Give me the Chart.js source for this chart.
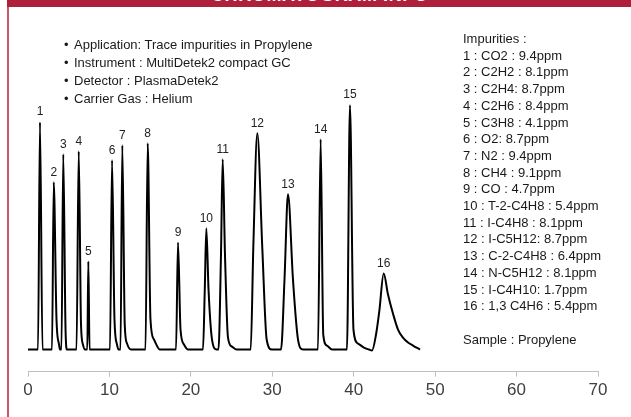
<!DOCTYPE html>
<html>
<head>
<meta charset="utf-8">
<script src="https://cdn.jsdelivr.net/npm/chart.js@4"></script>
<style>
  html, body { margin: 0; padding: 0; background: #fff; }
  body { width: 631px; height: 417px; position: relative; overflow: hidden;
         font-family: "Liberation Sans", Arial, sans-serif; color: #1a1a1a; }
  #chart { position: absolute; left: 0; top: 0; }
  #head { position: absolute; left: 7px; top: 0; width: 624px; height: 7px;
          background: #ad1f3b; overflow: hidden; }
  #head span { position: absolute; left: 204px; top: -14px; color: #fff;
               font: bold 18px "Liberation Sans", Arial, sans-serif; line-height: 18px;
               letter-spacing: 0.6px; white-space: nowrap; }
  #rule { position: absolute; left: 7px; top: 7px; width: 2px; height: 410px; background: #c9566a; }
  #notes { position: absolute; left: 64px; top: 36px; margin: 0; padding: 0; list-style: none;
           font-size: 13px; line-height: 18px; }
  #notes li::before { content: "\2022"; display: inline-block; width: 10px; }
  #impurities { position: absolute; left: 463px; top: 31px; font-size: 13px; line-height: 16.7px;
                white-space: pre; }
</style>
</head>
<body>
<canvas id="chart" width="631" height="417"></canvas>
<div id="head"><span>CHROMATOGRAM INFO</span></div>
<div id="rule"></div>
<ul id="notes">
  <li>Application: Trace impurities in Propylene</li>
  <li>Instrument : MultiDetek2 compact GC</li>
  <li>Detector : PlasmaDetek2</li>
  <li>Carrier Gas : Helium</li>
</ul>
<div id="impurities"></div>
<script>
// retention time (min) and detector signal
const traceTime = [0, 1.23, 1.47, 1.78, 2.95, 3.16, 3.50, 3.81, 3.93, 4.11, 4.33, 4.61, 4.79,
  5.96, 6.23, 6.51, 6.75, 7.00, 7.28, 7.41, 7.56,
  10.07, 10.32, 10.62, 10.93, 11.11, 11.36, 11.58, 11.88, 12.16, 12.65,
  14.43, 14.70, 15.04, 15.47, 16.21, 18.18, 18.42, 18.73, 19.16, 19.65,
  21.49, 21.71, 21.90, 22.17, 22.60, 23.17, 23.39, 23.70, 23.91, 24.19, 24.56, 25.05, 25.63,
  27.35, 27.67, 28.16, 28.77, 29.31, 29.96, 31.07, 31.50, 31.93, 32.54, 33.16, 33.77,
  35.61, 35.94, 36.26, 36.72, 37.33, 39.17, 39.54, 39.97, 40.53, 41.26, 41.88,
  42.24, 42.74, 43.14, 43.68, 44.21, 44.82, 45.44, 46.05, 46.67, 47.28, 48.14];
const traceSignal = [0, 0, 227, 0, 0, 167, 30, 5, 0, 0, 195, 20, 0,
  0, 198, 25, 5, 0, 0, 88, 0,
  0, 189, 30, 5, 0, 0, 204, 25, 6, 0,
  0, 206, 30, 10, 0, 0, 107, 20, 5, 0,
  0, 60, 121, 60, 10, 0, 0, 95, 190, 95, 12, 3, 0,
  0, 102, 216, 102, 10, 0, 0, 70, 155, 70, 10, 0,
  0, 210, 15, 4, 0, 0, 244, 20, 6, 2, 0,
  -1, 15, 38, 76, 55, 36, 20, 12, 7, 4, 0];

const peakNumbers = ['1', '2', '3', '4', '5', '6', '7', '8', '9', '10', '11', '12', '13', '14', '15', '16'];
const peakTimes = [1.47, 3.16, 4.33, 6.23, 7.41, 10.32, 11.58, 14.70, 18.42, 21.90, 23.91, 28.16, 31.93, 35.94, 39.54, 43.68];
const peakHeights = [227, 167, 195, 198, 88, 189, 204, 206, 107, 121, 190, 216, 155, 210, 244, 76];

const compounds = ['CO2 : 9.4ppm', 'C2H2 : 8.1ppm', 'C2H4: 8.7ppm', 'C2H6 : 8.4ppm', 'C3H8 : 4.1ppm',
  'O2: 8.7ppm', 'N2 : 9.4ppm', 'CH4 : 9.1ppm', 'CO : 4.7ppm', 'T-2-C4H8 : 5.4ppm', 'I-C4H8 : 8.1ppm',
  'I-C5H12: 8.7ppm', 'C-2-C4H8 : 6.4ppm', 'N-C5H12 : 8.1ppm', 'I-C4H10: 1.7ppm', '1,3 C4H6 : 5.4ppm'];
const timeTicks = [0, 10, 20, 30, 40, 50, 60, 70];

document.getElementById('impurities').textContent =
  'Impurities :\n' + compounds.map((c, i) => peakNumbers[i] + ' : ' + c).join('\n') + '\n\nSample : Propylene';

const peakLabels = {
  id: 'peakLabels',
  afterDatasetsDraw(chart) {
    const ctx = chart.ctx, xs = chart.scales.x, ys = chart.scales.y;
    ctx.save();
    ctx.fillStyle = '#222';
    ctx.font = '12px "Liberation Sans", Arial, sans-serif';
    ctx.textAlign = 'center';
    ctx.textBaseline = 'middle';
    peakNumbers.forEach((n, i) => {
      ctx.fillText(n, xs.getPixelForValue(peakTimes[i]), ys.getPixelForValue(peakHeights[i]) - 10);
    });
    ctx.restore();
  }
};

new Chart(document.getElementById('chart'), {
  type: 'line',
  data: {
    datasets: [{
      data: traceTime.map((t, i) => ({ x: t, y: traceSignal[i] })),
      borderColor: '#000',
      borderWidth: 2,
      pointRadius: 0,
      cubicInterpolationMode: 'monotone',
      fill: false
    }]
  },
  options: {
    responsive: false,
    animation: false,
    layout: { padding: { left: 28, right: 33, top: 23, bottom: 12 } },
    plugins: { legend: { display: false }, tooltip: { enabled: false } },
    scales: {
      x: {
        type: 'linear', min: 0, max: 70,
        afterBuildTicks: s => { s.ticks = timeTicks.map(v => ({ value: v })); },
        grid: { drawOnChartArea: false, drawTicks: true, tickLength: 5, color: '#bfbfbf' },
        border: { display: true, color: '#bfbfbf', width: 1 },
        ticks: { color: '#404040', font: { size: 17, family: '"Liberation Sans", Arial, sans-serif' }, padding: 4, maxRotation: 0 }
      },
      y: { display: false, min: -22, max: 326 }
    }
  },
  plugins: [peakLabels]
});
</script>
</body>
</html>
